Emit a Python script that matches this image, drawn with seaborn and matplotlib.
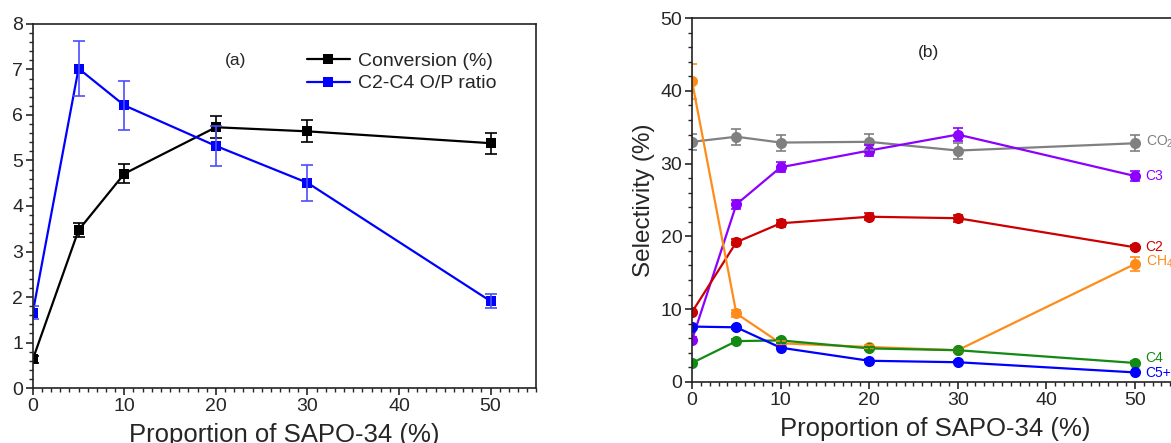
import numpy as np
import pandas as pd
import seaborn as sns
import matplotlib.pyplot as plt
from matplotlib.ticker import MultipleLocator

# data
x = [0, 5, 10, 20, 30, 50]

conversion = [0.63, 3.47, 4.71, 5.73, 5.64, 5.38]
conversion_err = [0.08, 0.15, 0.21, 0.24, 0.24, 0.23]
op_ratio = [1.66, 7.02, 6.21, 5.32, 4.51, 1.91]
op_ratio_err = [0.15, 0.6, 0.53, 0.44, 0.39, 0.16]

co2 = [33.0, 33.7, 32.9, 33.0, 31.8, 32.8]
co2_err = [1.1, 1.1, 1.1, 1.1, 1.1, 1.1]
c3 = [5.8, 24.4, 29.5, 31.8, 34.0, 28.3]
c3_err = [0.3, 0.6, 0.7, 0.8, 0.9, 0.7]
c2 = [9.6, 19.2, 21.8, 22.7, 22.5, 18.5]
c2_err = [0.3, 0.4, 0.5, 0.5, 0.5, 0.3]
ch4 = [41.3, 9.4, 5.3, 4.8, 4.35, 16.2]
ch4_err = [2.4, 0.5, 0.3, 0.3, 0.2, 0.9]
c4 = [2.6, 5.6, 5.7, 4.6, 4.35, 2.6]
c4_err = [0.2, 0.3, 0.3, 0.2, 0.2, 0.2]
c5 = [7.6, 7.5, 4.7, 2.9, 2.7, 1.3]
c5_err = [0.2, 0.2, 0.2, 0.2, 0.1, 0.1]

sns.set_style("ticks")
plt.rcParams['font.family'] = ['Liberation Sans', 'DejaVu Sans']
plt.rcParams['mathtext.fontset'] = 'custom'
plt.rcParams['mathtext.rm'] = 'Liberation Sans'

fig = plt.figure(figsize=(11.71, 4.43), dpi=100)
ax1 = fig.add_axes([0.028, 0.124, 0.430, 0.822])
ax2 = fig.add_axes([0.591, 0.138, 0.416, 0.821])

def style_axis(ax, ymax, ymajor, yminor, xmax):
    ax.set_xlim(0, xmax)
    ax.set_ylim(0, ymax)
    ax.xaxis.set_major_locator(MultipleLocator(10))
    ax.xaxis.set_minor_locator(MultipleLocator(1))
    ax.yaxis.set_major_locator(MultipleLocator(ymajor))
    ax.yaxis.set_minor_locator(MultipleLocator(yminor))
    ax.tick_params(which='major', direction='out', length=5, width=1.2, labelsize=14, pad=2)
    ax.tick_params(which='minor', direction='out', length=3, width=1)
    for s in ax.spines.values():
        s.set_linewidth(1.2)
        s.set_color('#222222')
    ax.set_xlabel("Proportion of SAPO-34 (%)", fontsize=18.5, labelpad=6)

# panel (a)
left = pd.DataFrame({'x': x * 2,
                     'y': conversion + op_ratio,
                     'series': ['Conversion (%)'] * 6 + ['C2-C4 O/P ratio'] * 6})
pal_a = {'Conversion (%)': 'black', 'C2-C4 O/P ratio': '#0000ff'}
sns.lineplot(data=left, x='x', y='y', hue='series', palette=pal_a, marker='s',
             markersize=7, markeredgewidth=0, linewidth=1.6, ax=ax1)
ax1.errorbar(x, conversion, yerr=conversion_err, fmt='none', ecolor='black',
             elinewidth=1.2, capsize=4, capthick=1.2)
ax1.errorbar(x, op_ratio, yerr=op_ratio_err, fmt='none', ecolor='#4d4dff',
             elinewidth=1.2, capsize=4, capthick=1.2)
style_axis(ax1, 8, 1, 0.2, 55)
ax1.set_ylabel("")
ax1.legend(loc='upper right', bbox_to_anchor=(0.955, 0.97), frameon=False,
           fontsize=14, handlelength=2.2, handletextpad=0.4, labelspacing=0.25)
ax1.text(22.2, 7.2, "(a)", fontsize=12.5, ha='center', va='center')

# panel (b)
series_b = [
    ('CO$_2$', co2, co2_err, '#808080'),
    ('C3', c3, c3_err, '#8b00ff'),
    ('C2', c2, c2_err, '#cc0000'),
    ('CH$_4$', ch4, ch4_err, '#ff8c1a'),
    ('C4', c4, c4_err, '#138a13'),
    ('C5+', c5, c5_err, '#0000ff'),
]
right = pd.DataFrame({'x': x * len(series_b),
                      'y': sum([s[1] for s in series_b], []),
                      'series': sum([[s[0]] * 6 for s in series_b], [])})
pal_b = {s[0]: s[3] for s in series_b}
sns.lineplot(data=right, x='x', y='y', hue='series', palette=pal_b, marker='o',
             markersize=8, markeredgewidth=0, linewidth=1.6, ax=ax2, legend=False)
label_y = {'CO$_2$': 33.0, 'C3': 28.3, 'C2': 18.5, 'CH$_4$': 16.5, 'C4': 3.3, 'C5+': 1.2}
for name, vals, err, col in series_b:
    ax2.errorbar(x, vals, yerr=err, fmt='none', ecolor=col, elinewidth=1.2,
                 capsize=3.5, capthick=1.2)
    ax2.text(51.2, label_y[name], name, color=col, fontsize=10, va='center', ha='left')
style_axis(ax2, 50, 10, 2, 55)
ax2.set_ylabel("Selectivity (%)", fontsize=17.5, labelpad=4)
ax2.text(26.7, 45.3, "(b)", fontsize=12.5, ha='center', va='center')

fig.savefig("out.png", dpi=100)
